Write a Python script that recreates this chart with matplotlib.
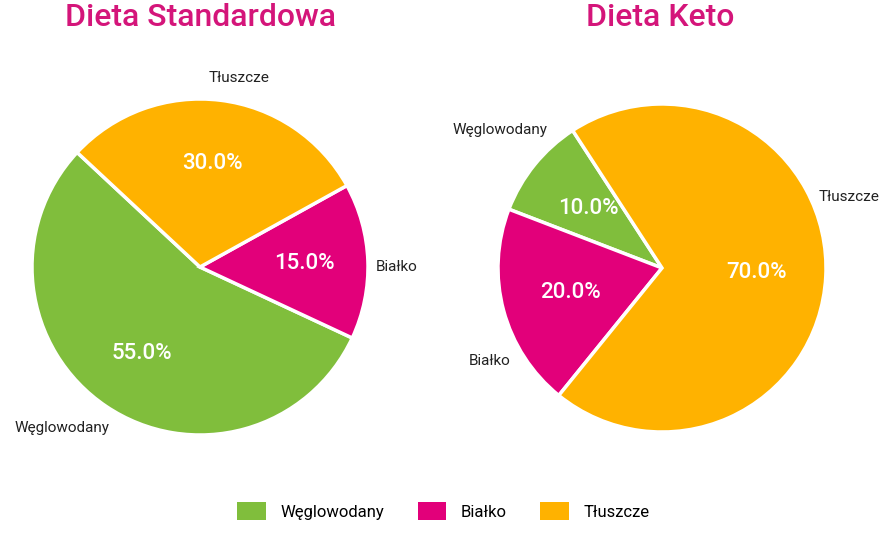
import matplotlib.pyplot as plt
from matplotlib.patches import Patch

plt.rcParams['font.family'] = ['Roboto', 'DejaVu Sans']

# data
categories = ['Węglowodany', 'Białko', 'Tłuszcze']
standard_values = [55, 15, 30]
keto_values = [10, 20, 70]
titles = ['Dieta Standardowa', 'Dieta Keto']
colors = ['#80be3c', '#e2007a', '#ffb200']
title_color = '#d4157a'

# where the outer labels sit (in units of the pie radius)
standard_label_pos = [(-0.82, -0.96), (1.17, 0.0), (0.23, 1.125)]
keto_label_pos = [(-0.99, 0.84), (-1.05, -0.57), (1.14, 0.43)]

W, H = 880, 540
fig = plt.figure(figsize=(W / 100, H / 100), dpi=100)


def px_axes(cx, cy, r, lim=1.02):
    half = r * lim
    return fig.add_axes([(cx - half) / W, (H - cy - half) / H, 2 * half / W, 2 * half / H])


def draw_pie(ax, values, start, pctdist, label_pos):
    wedges, texts, autotexts = ax.pie(
        values, labels=categories, colors=colors, startangle=start,
        autopct='%1.1f%%', pctdistance=pctdist,
        wedgeprops=dict(edgecolor='white', linewidth=2.5),
        textprops=dict(fontsize=11, color='#222222'))
    for t, pos in zip(texts, label_pos):
        t.set_position(pos)
        t.set_ha('center')
        t.set_va('center')
    for t in autotexts:
        t.set_color('white')
        t.set_fontsize(16)
        t.set_fontweight('medium')
    ax.set_xlim(-1.02, 1.02)
    ax.set_ylim(-1.02, 1.02)
    ax.set_aspect('equal')
    return wedges


ax1 = px_axes(200, 267, 168)
draw_pie(ax1, standard_values, 137, 0.62, standard_label_pos)

ax2 = px_axes(662, 268, 164)
draw_pie(ax2, keto_values, 123, 0.58, keto_label_pos)

fig.text(200 / W, 1 - 26 / H, titles[0], ha='center', va='baseline',
         fontsize=23, color=title_color, fontweight='medium')
fig.text(660 / W, 1 - 26 / H, titles[1], ha='center', va='baseline',
         fontsize=23, color=title_color, fontweight='medium')

handles = [Patch(facecolor=c, edgecolor='none') for c in colors]
fig.legend(handles, categories, loc='center', bbox_to_anchor=(0.504, 1 - 511 / H),
           ncol=3, frameon=False, fontsize=12, handlelength=1.7, handleheight=1.2,
           handletextpad=0.9, columnspacing=2.0)

fig.savefig('out.png', dpi=100)
